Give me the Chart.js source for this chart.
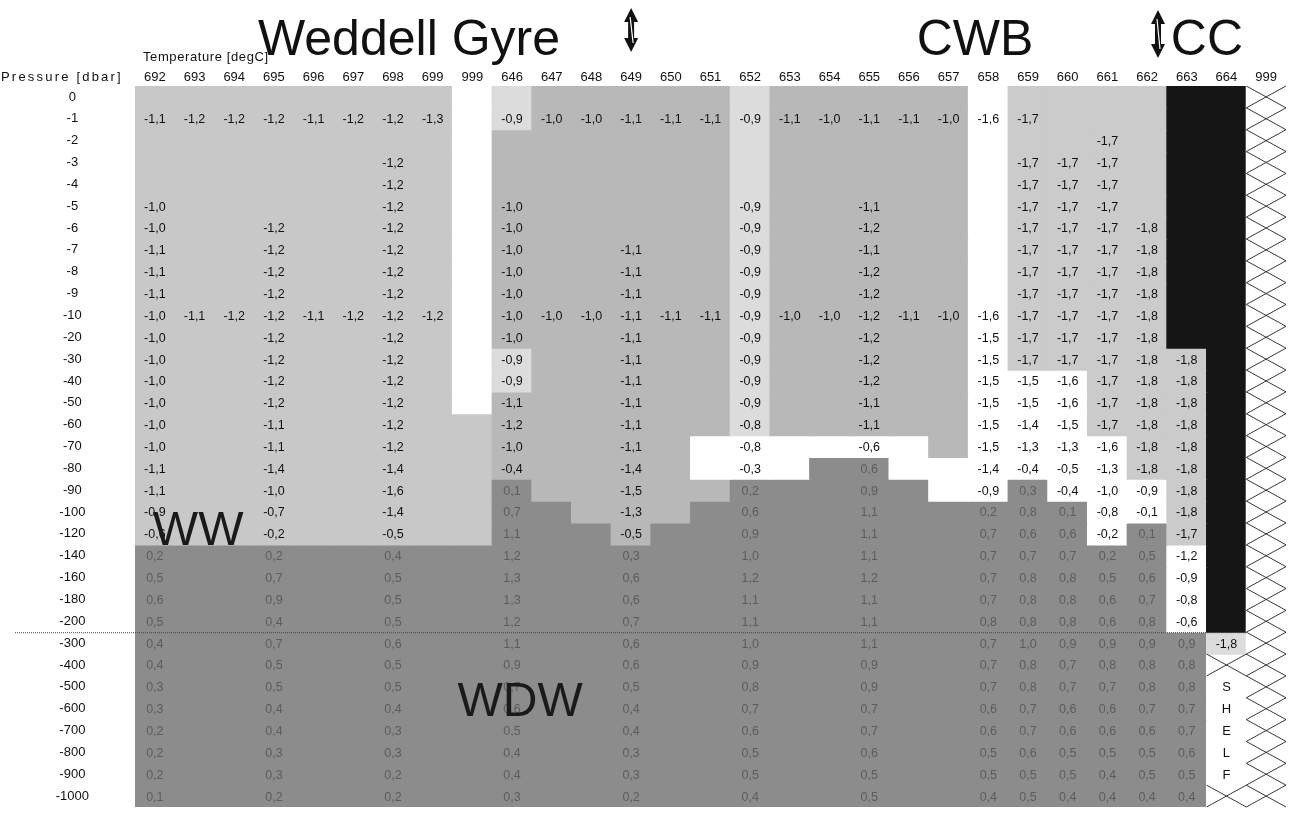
<!DOCTYPE html>
<html>
<head>
<meta charset="utf-8">
<title>Weddell Gyre temperature section</title>
<script src="https://cdn.jsdelivr.net/npm/chart.js@4.4.1/dist/chart.umd.min.js"></script>
<style>
  html, body { margin: 0; padding: 0; background: #fff; }
  #wrap { position: relative; width: 1292px; height: 814px; }
</style>
</head>
<body>
<div id="wrap"><canvas id="section"></canvas></div>
<script>
const _ = null;

// station numbers across the top, pressure levels down the side
const stations = ['692','693','694','695','696','697','698','699','999','646','647','648','649','650','651','652','653','654','655','656','657','658','659','660','661','662','663','664','999'];
const pressure = ['0','-1','-2','-3','-4','-5','-6','-7','-8','-9','-10','-20','-30','-40','-50','-60','-70','-80','-90','-100','-120','-140','-160','-180','-200','-300','-400','-500','-600','-700','-800','-900','-1000'];

// temperature [degC] per station, rows:  0..-10  |  -20..-120  |  -140..-1000
const t692 = [_, -1.1, _, _, _, -1.0, -1.0, -1.1, -1.1, -1.1, -1.0,  -1.0, -1.0, -1.0, -1.0, -1.0, -1.0, -1.1, -1.1, -0.9, -0.6,  0.2, 0.5, 0.6, 0.5, 0.4, 0.4, 0.3, 0.3, 0.2, 0.2, 0.2, 0.1];
const t693 = [_, -1.2, _, _, _, _, _, _, _, _, -1.1,  _, _, _, _, _, _, _, _, _, _,  _, _, _, _, _, _, _, _, _, _, _, _];
const t694 = [_, -1.2, _, _, _, _, _, _, _, _, -1.2,  _, _, _, _, _, _, _, _, _, _,  _, _, _, _, _, _, _, _, _, _, _, _];
const t695 = [_, -1.2, _, _, _, _, -1.2, -1.2, -1.2, -1.2, -1.2,  -1.2, -1.2, -1.2, -1.2, -1.1, -1.1, -1.4, -1.0, -0.7, -0.2,  0.2, 0.7, 0.9, 0.4, 0.7, 0.5, 0.5, 0.4, 0.4, 0.3, 0.3, 0.2];
const t696 = [_, -1.1, _, _, _, _, _, _, _, _, -1.1,  _, _, _, _, _, _, _, _, _, _,  _, _, _, _, _, _, _, _, _, _, _, _];
const t697 = [_, -1.2, _, _, _, _, _, _, _, _, -1.2,  _, _, _, _, _, _, _, _, _, _,  _, _, _, _, _, _, _, _, _, _, _, _];
const t698 = [_, -1.2, _, -1.2, -1.2, -1.2, -1.2, -1.2, -1.2, -1.2, -1.2,  -1.2, -1.2, -1.2, -1.2, -1.2, -1.2, -1.4, -1.6, -1.4, -0.5,  0.4, 0.5, 0.5, 0.5, 0.6, 0.5, 0.5, 0.4, 0.3, 0.3, 0.2, 0.2];
const t699 = [_, -1.3, _, _, _, _, _, _, _, _, -1.2,  _, _, _, _, _, _, _, _, _, _,  _, _, _, _, _, _, _, _, _, _, _, _];
const t999a = [_, _, _, _, _, _, _, _, _, _, _,  _, _, _, _, _, _, _, _, _, _,  _, _, _, _, _, _, _, _, _, _, _, _];
const t646 = [_, -0.9, _, _, _, -1.0, -1.0, -1.0, -1.0, -1.0, -1.0,  -1.0, -0.9, -0.9, -1.1, -1.2, -1.0, -0.4, 0.1, 0.7, 1.1,  1.2, 1.3, 1.3, 1.2, 1.1, 0.9, 0.7, 0.6, 0.5, 0.4, 0.4, 0.3];
const t647 = [_, -1.0, _, _, _, _, _, _, _, _, -1.0,  _, _, _, _, _, _, _, _, _, _,  _, _, _, _, _, _, _, _, _, _, _, _];
const t648 = [_, -1.0, _, _, _, _, _, _, _, _, -1.0,  _, _, _, _, _, _, _, _, _, _,  _, _, _, _, _, _, _, _, _, _, _, _];
const t649 = [_, -1.1, _, _, _, _, _, -1.1, -1.1, -1.1, -1.1,  -1.1, -1.1, -1.1, -1.1, -1.1, -1.1, -1.4, -1.5, -1.3, -0.5,  0.3, 0.6, 0.6, 0.7, 0.6, 0.6, 0.5, 0.4, 0.4, 0.3, 0.3, 0.2];
const t650 = [_, -1.1, _, _, _, _, _, _, _, _, -1.1,  _, _, _, _, _, _, _, _, _, _,  _, _, _, _, _, _, _, _, _, _, _, _];
const t651 = [_, -1.1, _, _, _, _, _, _, _, _, -1.1,  _, _, _, _, _, _, _, _, _, _,  _, _, _, _, _, _, _, _, _, _, _, _];
const t652 = [_, -0.9, _, _, _, -0.9, -0.9, -0.9, -0.9, -0.9, -0.9,  -0.9, -0.9, -0.9, -0.9, -0.8, -0.8, -0.3, 0.2, 0.6, 0.9,  1.0, 1.2, 1.1, 1.1, 1.0, 0.9, 0.8, 0.7, 0.6, 0.5, 0.5, 0.4];
const t653 = [_, -1.1, _, _, _, _, _, _, _, _, -1.0,  _, _, _, _, _, _, _, _, _, _,  _, _, _, _, _, _, _, _, _, _, _, _];
const t654 = [_, -1.0, _, _, _, _, _, _, _, _, -1.0,  _, _, _, _, _, _, _, _, _, _,  _, _, _, _, _, _, _, _, _, _, _, _];
const t655 = [_, -1.1, _, _, _, -1.1, -1.2, -1.1, -1.2, -1.2, -1.2,  -1.2, -1.2, -1.2, -1.1, -1.1, -0.6, 0.6, 0.9, 1.1, 1.1,  1.1, 1.2, 1.1, 1.1, 1.1, 0.9, 0.9, 0.7, 0.7, 0.6, 0.5, 0.5];
const t656 = [_, -1.1, _, _, _, _, _, _, _, _, -1.1,  _, _, _, _, _, _, _, _, _, _,  _, _, _, _, _, _, _, _, _, _, _, _];
const t657 = [_, -1.0, _, _, _, _, _, _, _, _, -1.0,  _, _, _, _, _, _, _, _, _, _,  _, _, _, _, _, _, _, _, _, _, _, _];
const t658 = [_, -1.6, _, _, _, _, _, _, _, _, -1.6,  -1.5, -1.5, -1.5, -1.5, -1.5, -1.5, -1.4, -0.9, 0.2, 0.7,  0.7, 0.7, 0.7, 0.8, 0.7, 0.7, 0.7, 0.6, 0.6, 0.5, 0.5, 0.4];
const t659 = [_, -1.7, _, -1.7, -1.7, -1.7, -1.7, -1.7, -1.7, -1.7, -1.7,  -1.7, -1.7, -1.5, -1.5, -1.4, -1.3, -0.4, 0.3, 0.8, 0.6,  0.7, 0.8, 0.8, 0.8, 1.0, 0.8, 0.8, 0.7, 0.7, 0.6, 0.5, 0.5];
const t660 = [_, _, _, -1.7, -1.7, -1.7, -1.7, -1.7, -1.7, -1.7, -1.7,  -1.7, -1.7, -1.6, -1.6, -1.5, -1.3, -0.5, -0.4, 0.1, 0.6,  0.7, 0.8, 0.8, 0.8, 0.9, 0.7, 0.7, 0.6, 0.6, 0.5, 0.5, 0.4];
const t661 = [_, _, -1.7, -1.7, -1.7, -1.7, -1.7, -1.7, -1.7, -1.7, -1.7,  -1.7, -1.7, -1.7, -1.7, -1.7, -1.6, -1.3, -1.0, -0.8, -0.2,  0.2, 0.5, 0.6, 0.6, 0.9, 0.8, 0.7, 0.6, 0.6, 0.5, 0.4, 0.4];
const t662 = [_, _, _, _, _, _, -1.8, -1.8, -1.8, -1.8, -1.8,  -1.8, -1.8, -1.8, -1.8, -1.8, -1.8, -1.8, -0.9, -0.1, 0.1,  0.5, 0.6, 0.7, 0.8, 0.9, 0.8, 0.8, 0.7, 0.6, 0.5, 0.5, 0.4];
const t663 = [_, _, _, _, _, _, _, _, _, _, _,  _, -1.8, -1.8, -1.8, -1.8, -1.8, -1.8, -1.8, -1.8, -1.7,  -1.2, -0.9, -0.8, -0.6, 0.9, 0.8, 0.8, 0.7, 0.7, 0.6, 0.5, 0.4];
const t664 = [_, _, _, _, _, _, _, _, _, _, _,  _, _, _, _, _, _, _, _, _, _,  _, _, _, _, -1.8, _, _, _, _, _, _, _];
const t999b = [_, _, _, _, _, _, _, _, _, _, _,  _, _, _, _, _, _, _, _, _, _,  _, _, _, _, _, _, _, _, _, _, _, _];

// note written down the shelf column (station 664)
const shelfNote = [_, _, _, _, _, _, _, _, _, _, _,  _, _, _, _, _, _, _, _, _, _,  _, _, _, _, _, _, 'S', 'H', 'E', 'L', 'F', _];

const profiles = [t692, t693, t694, t695, t696, t697, t698, t699, t999a, t646, t647, t648, t649, t650, t651,
                  t652, t653, t654, t655, t656, t657, t658, t659, t660, t661, t662, t663, t664, t999b];

// water mass of each cell, one string per pressure row, one letter per station
// a = WW, b = pale, c = CWB, g = cold shelf water, w = blank, d = WDW, k = CC, h = shelf (hatched)
const waterMass = [
  'aaaaaaaa' + 'w' + 'b' + 'ccccc' + 'b' + 'ccccc' + 'w' + 'gggg' + 'kk' + 'h',
  'aaaaaaaa' + 'w' + 'b' + 'ccccc' + 'b' + 'ccccc' + 'w' + 'gggg' + 'kk' + 'h',
  'aaaaaaaa' + 'w' + 'cccccc' + 'b' + 'ccccc' + 'w' + 'gggg' + 'kk' + 'h',
  'aaaaaaaa' + 'w' + 'cccccc' + 'b' + 'ccccc' + 'w' + 'gggg' + 'kk' + 'h',
  'aaaaaaaa' + 'w' + 'cccccc' + 'b' + 'ccccc' + 'w' + 'gggg' + 'kk' + 'h',
  'aaaaaaaa' + 'w' + 'cccccc' + 'b' + 'ccccc' + 'w' + 'gggg' + 'kk' + 'h',
  'aaaaaaaa' + 'w' + 'cccccc' + 'b' + 'ccccc' + 'w' + 'gggg' + 'kk' + 'h',
  'aaaaaaaa' + 'w' + 'cccccc' + 'b' + 'ccccc' + 'w' + 'gggg' + 'kk' + 'h',
  'aaaaaaaa' + 'w' + 'cccccc' + 'b' + 'ccccc' + 'w' + 'gggg' + 'kk' + 'h',
  'aaaaaaaa' + 'w' + 'cccccc' + 'b' + 'ccccc' + 'w' + 'gggg' + 'kk' + 'h',
  'aaaaaaaa' + 'w' + 'cccccc' + 'b' + 'ccccc' + 'w' + 'gggg' + 'kk' + 'h',
  'aaaaaaaa' + 'w' + 'cccccc' + 'b' + 'ccccc' + 'w' + 'gggg' + 'kk' + 'h',
  'aaaaaaaa' + 'w' + 'b' + 'ccccc' + 'b' + 'ccccc' + 'w' + 'ggggg' + 'k' + 'h',
  'aaaaaaaa' + 'w' + 'b' + 'ccccc' + 'b' + 'ccccc' + 'www' + 'ggg' + 'k' + 'h',
  'aaaaaaaa' + 'w' + 'cccccc' + 'b' + 'ccccc' + 'www' + 'ggg' + 'k' + 'h',
  'aaaaaaaaa' + 'cccccc' + 'b' + 'ccccc' + 'www' + 'ggg' + 'k' + 'h',
  'aaaaaaaaa' + 'ccccc' + 'wwwwww' + 'c' + 'wwww' + 'gg' + 'k' + 'h',
  'aaaaaaaaa' + 'ccccc' + 'www' + 'dd' + 'wwwwww' + 'gg' + 'k' + 'h',
  'aaaaaaaaa' + 'd' + 'ccccc' + 'ddddd' + 'ww' + 'd' + 'www' + 'g' + 'k' + 'h',
  'aaaaaaaaa' + 'dd' + 'ccc' + 'dddddddddd' + 'ww' + 'g' + 'k' + 'h',
  'aaaaaaaaa' + 'ddd' + 'c' + 'ddddddddddd' + 'w' + 'd' + 'g' + 'k' + 'h',
  'd'.repeat(26) + 'wkh',
  'd'.repeat(26) + 'wkh',
  'd'.repeat(26) + 'wkh',
  'd'.repeat(26) + 'wkh',
  'd'.repeat(27) + 'bh',
  'd'.repeat(27) + 'hh',
  'd'.repeat(27) + 'wh',
  'd'.repeat(27) + 'wh',
  'd'.repeat(27) + 'wh',
  'd'.repeat(27) + 'wh',
  'd'.repeat(27) + 'wh',
  'd'.repeat(27) + 'hh'
];

const FONT = '"Liberation Sans", Arial, sans-serif';
const massColor = { a: '#c8c8c8', b: '#dcdcdc', c: '#b8b8b8', g: '#cbcbcb', w: '#ffffff', d: '#8c8c8c', k: '#151515', h: '#ffffff' };

// one dataset per pressure row; each cell is a floating bar one row tall
const datasets = pressure.map((p, r) => ({
  label: p,
  data: stations.map(() => [r - 0.5, r + 0.5]),
  backgroundColor: stations.map((s, c) => massColor[waterMass[r][c]]),
  borderWidth: 0,
  inflateAmount: 0.6,
  barPercentage: 1,
  categoryPercentage: 1,
  grouped: false
}));

function drawArrow(ctx, x, top, bottom) {
  ctx.save();
  ctx.fillStyle = '#111';
  ctx.beginPath();
  ctx.moveTo(x, top); ctx.lineTo(x + 7, top + 14); ctx.lineTo(x - 7, top + 14); ctx.closePath();
  ctx.fill();
  ctx.beginPath();
  ctx.moveTo(x, bottom); ctx.lineTo(x + 7, bottom - 14); ctx.lineTo(x - 7, bottom - 14); ctx.closePath();
  ctx.fill();
  ctx.fillRect(x - 3, top + 12, 6, bottom - top - 24);
  ctx.strokeStyle = '#fff';
  ctx.lineWidth = 1.2;
  ctx.beginPath();
  ctx.moveTo(x - 1, top + 9); ctx.lineTo(x + 2, bottom - 9);
  ctx.stroke();
  ctx.restore();
}

const cellPlugin = {
  id: 'cellPlugin',
  afterDatasetsDraw(chart) {
    const ctx = chart.ctx;
    const xs = chart.scales.x, ys = chart.scales.y;
    ctx.save();
    ctx.font = '12.5px ' + FONT;
    ctx.textAlign = 'center';
    ctx.textBaseline = 'middle';
    pressure.forEach((p, r) => {
      const bars = chart.getDatasetMeta(r).data;
      stations.forEach((s, c) => {
        const bar = bars[c];
        const mass = waterMass[r][c];
        const top = Math.min(bar.y, bar.base), bottom = Math.max(bar.y, bar.base);
        const left = bar.x - bar.width / 2, right = bar.x + bar.width / 2;
        if (mass === 'h') {
          ctx.strokeStyle = '#222';
          ctx.lineWidth = 0.9;
          ctx.beginPath();
          ctx.moveTo(left, top); ctx.lineTo(right, bottom);
          ctx.moveTo(left, bottom); ctx.lineTo(right, top);
          ctx.stroke();
        }
        const v = profiles[c][r];
        if (v !== null && mass !== 'k') {
          ctx.fillStyle = mass === 'd' ? '#5c5c5c' : '#111';
          ctx.fillText(v.toFixed(1).replace('.', ','), bar.x, (top + bottom) / 2 + 1);
        }
        if (c === 27 && shelfNote[r]) {
          ctx.fillStyle = '#111';
          ctx.font = '13px ' + FONT;
          ctx.fillText(shelfNote[r], bar.x, (top + bottom) / 2 + 1);
          ctx.font = '12.5px ' + FONT;
        }
      });
    });

    // dotted break between the -200 and -300 rows
    const yBreak = ys.getPixelForValue(24.5);
    ctx.strokeStyle = '#444';
    ctx.lineWidth = 1;
    ctx.setLineDash([1, 1]);
    ctx.beginPath();
    ctx.moveTo(15, yBreak + 0.5);
    ctx.lineTo(xs.getPixelForValue(28) - xs.width / 58, yBreak + 0.5);
    ctx.stroke();
    ctx.setLineDash([]);

    // water mass labels
    ctx.fillStyle = '#1a1a1a';
    ctx.font = '48px ' + FONT;
    ctx.textAlign = 'left';
    ctx.textBaseline = 'alphabetic';
    ctx.fillText('WW', xs.getPixelForValue(0) - 2, ys.getPixelForValue(20.5));
    ctx.textAlign = 'center';
    ctx.fillText('WDW', xs.getPixelForValue(9) + 8, ys.getPixelForValue(28.5) - 4);

    // regions above the table
    ctx.font = '50px ' + FONT;
    ctx.fillStyle = '#111';
    ctx.textAlign = 'left';
    ctx.fillText('Weddell Gyre', 258, 55);
    ctx.textAlign = 'center';
    ctx.fillText('CWB', 975, 55);
    ctx.textAlign = 'right';
    ctx.fillText('CC', 1243, 55);
    drawArrow(ctx, xs.getPixelForValue(12), 8, 52);
    drawArrow(ctx, 1158, 10, 58);

    // small captions
    ctx.font = '13px ' + FONT;
    ctx.textBaseline = 'middle';
    ctx.textAlign = 'left';
    ctx.letterSpacing = '0.6px';
    ctx.fillText('Temperature [degC]', 143, 57);
    ctx.letterSpacing = '2.2px';
    ctx.fillText('Pressure [dbar]', 1, 77);
    ctx.restore();
  }
};

new Chart(document.getElementById('section'), {
  type: 'bar',
  data: { labels: stations, datasets: datasets },
  options: {
    responsive: true,
    maintainAspectRatio: false,
    devicePixelRatio: 1,
    animation: false,
    events: [],
    layout: { padding: { left: 0, top: 0, right: 6, bottom: 7 } },
    plugins: { legend: { display: false }, tooltip: { enabled: false } },
    scales: {
      x: {
        position: 'top',
        grid: { display: false, drawTicks: false },
        border: { display: false },
        ticks: { color: '#111', font: { family: FONT, size: 13 }, padding: 1, maxRotation: 0, autoSkip: false },
        afterFit: s => { s.height = 86; }
      },
      y: {
        type: 'linear',
        reverse: true,
        min: -0.5,
        max: 32.5,
        grid: { display: false, drawTicks: false },
        border: { display: false },
        afterBuildTicks: s => { s.ticks = pressure.map((p, i) => ({ value: i })); },
        ticks: {
          autoSkip: false,
          crossAlign: 'center',
          padding: 46,
          color: '#111',
          font: { family: FONT, size: 13 },
          callback: v => pressure[v]
        },
        // fixed label column; the label offset must not eat into the table height
        afterFit: s => { s.width = 135; s.paddingTop = 0; s.paddingBottom = 0; }
      }
    }
  },
  plugins: [cellPlugin]
});
</script>
</body>
</html>
